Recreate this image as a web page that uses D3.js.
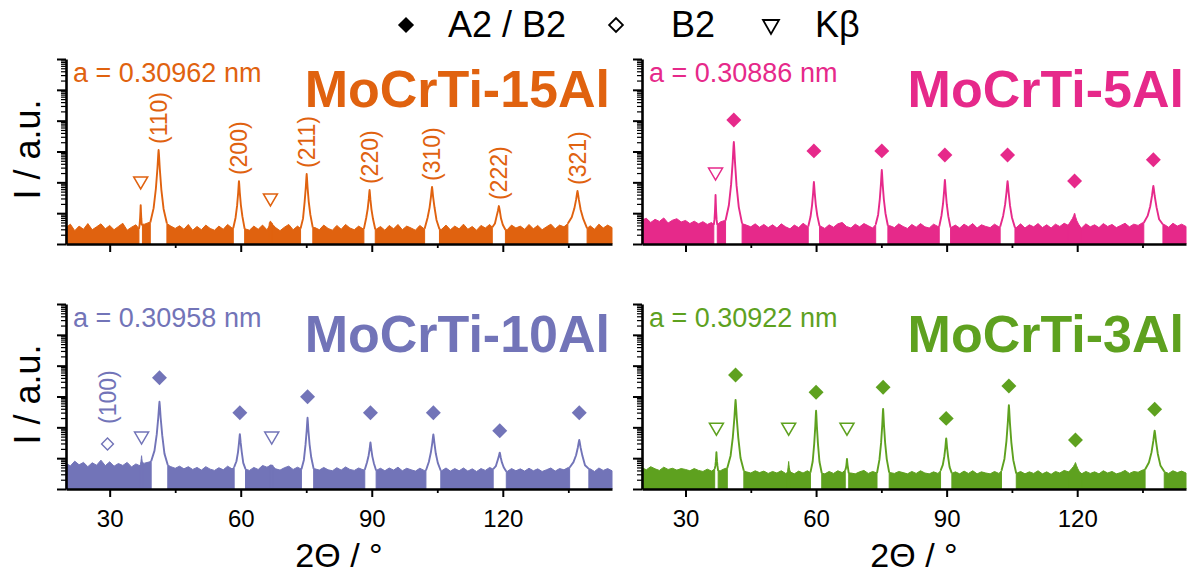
<!DOCTYPE html>
<html>
<head>
<meta charset="utf-8">
<script src="https://cdn.jsdelivr.net/npm/d3@7"></script>
<style>
body { margin: 0; background: #fff; }
svg text { font-family: "Liberation Sans", Arial, sans-serif; }
</style>
</head>
<body>
<div id="chart-area"></div>
<script>
// background counts, one value per degree from 20 to 145
var noise15 = [34,44,27,38,30,46,29,36,45,31, 40,29,37,47,28,35,42,31,44,50,
               56,58,52,46,38,32,39,30,43,28, 37,29,41,32,28,38,30,43,33,39,
               44,31,28,38,30,41,29,48,34,27, 35,43,29,38,32,44,46,34,29,41,
               32,28,40,30,43,33,29,38,31,44, 41,30,37,28,40,31,43,29,38,33,
               28,40,31,43,45,35,30,41,29,38, 31,44,30,37,28,40,33,43,35,45,
               31,29,41,33,38,30,43,31,40,29, 36,44,31,41,36,46,48,46,41,32,
               39,30,44,33,41,34];
var noise5 = [60,68,50,63,54,70,48,59,66,52, 58,46,55,45,53,43,50,42,52,58,
              64,62,54,46,41,36,45,35,43,34, 42,33,45,36,31,41,34,47,37,43,
              48,38,32,42,35,45,50,37,33,44, 36,46,39,33,43,47,49,39,34,45,
              37,32,43,35,46,36,33,44,37,47, 44,34,41,33,44,36,46,33,42,37,
              34,44,36,46,47,39,34,45,33,42, 36,46,34,42,33,44,37,47,40,48,
              37,33,45,36,42,34,46,37,43,34, 40,47,36,44,40,49,50,47,43,37,
              43,35,47,38,44,37];
var noise10 = [68,56,80,61,73,53,71,59,86,57, 76,55,67,58,73,52,65,56,69,75,
               79,80,72,60,53,47,55,45,53,43, 50,41,53,44,40,49,42,55,45,51,
               55,44,40,50,43,58,51,60,45,41, 49,55,43,51,44,53,56,45,41,50,
               42,39,49,41,52,43,40,48,42,53, 49,40,47,39,48,41,51,39,47,42,
               38,47,40,49,52,44,39,48,38,46, 39,48,38,45,37,46,40,50,44,52,
               40,37,46,39,45,38,47,39,45,37, 42,48,38,46,42,50,52,49,45,39,
               45,37,48,40,46,39];
var noise3 = [49,42,53,45,40,51,43,47,41,46, 43,39,46,40,37,44,38,45,39,46,
              48,50,45,39,36,33,39,34,38,32, 37,33,39,32,36,31,38,33,39,34,
              39,33,31,37,32,39,34,41,33,31, 36,40,32,37,33,39,41,34,32,37,
              34,31,37,32,39,33,31,36,32,39, 37,32,36,31,38,32,39,31,36,33,
              31,37,32,39,40,35,32,37,31,36, 32,39,31,36,30,37,33,40,36,41,
              33,31,37,32,36,31,39,33,37,31, 34,40,32,37,35,41,43,41,37,33,
              37,32,39,34,38,33];

// bcc reflections, their half width at the foot (degrees)
var reflections = ["(110)", "(200)", "(211)", "(220)", "(310)", "(222)", "(321)"];
var peakWidth = [1.9, 1.3, 1.4, 1.3, 1.7, 1.5, 2.2];
var kbWidth = 0.4;

// peak positions (2theta) and apex counts
var pos15 = [41.2, 59.6, 75.1, 89.5, 103.8, 119.1, 137.1];
var int15 = [11220, 1096, 1862, 562, 708, 170, 525];
var pos5 = [41.1, 59.5, 75.1, 89.6, 104.0, 119.4, 137.5];
var int5 = [20400, 1023, 2512, 1202, 1096, 100, 759];
var pos10 = [41.4, 59.8, 75.3, 89.7, 104.1, 119.3, 137.5];
var int10 = [6761, 603, 2042, 324, 589, 151, 389];
var pos3 = [41.5, 60.0, 75.4, 89.9, 104.3, 119.6, 137.8];
var int3 = [7762, 3467, 3981, 437, 5248, 72, 776];

// K-beta lines: position, apex, marker height
var kbPos15 = [37.1, 66.8], kbInt15 = [182, 56], kbMark15 = [955, 269];
var kbPos5 = [36.9], kbInt5 = [389], kbMark5 = [1862];
var kbPos10 = [37.3, 67.1], kbInt10 = [120, 56], kbMark10 = [447, 447];
var kbPos3 = [37.1, 53.7, 67.1], kbInt3 = [155, 78, 95], kbMark3 = [871, 871, 871];

// filled diamond marker heights (A2 / B2)
var dia5 = [104700, 10470, 10470, 7762, 7762, 1096, 5370];
var dia10 = [40740, 2951, 9772, 2951, 2951, 776, 2951];
var dia3 = [50120, 13800, 19950, 1950, 21880, 389, 3890];

// B2 superlattice (100) in the 10Al sample
var b2Pos10 = [29.5], b2Mark10 = [288];

var samples = ["MoCrTi-15Al", "MoCrTi-5Al", "MoCrTi-10Al", "MoCrTi-3Al"];
var lattice = ["a = 0.30962 nm", "a = 0.30886 nm", "a = 0.30958 nm", "a = 0.30922 nm"];
var colors = ["#e0620f", "#e6298a", "#7274b8", "#5ea11f"];
var xMajor = [30, 60, 90, 120];
var xMinor = [45, 75, 105, 135];

var svg = d3.select("#chart-area").append("svg")
    .attr("width", 1192)
    .attr("height", 576);

// Panel object
XrdPanel = function(_parent, _cfg) {
    this.parent = _parent;
    this.cfg = _cfg;
    this.initVis();
};

XrdPanel.prototype.initVis = function() {
    var vis = this, c = vis.cfg;

    vis.x = d3.scaleLinear().domain([20, 145]).range([c.left, c.right]);
    vis.y = d3.scaleLog().domain([10, 1e7]).range([c.bottom, c.top]);
    vis.g = vis.parent.append("g");

    vis.drawData();
    vis.drawAxes();
    vis.drawMarkers();
    vis.drawText();
};

XrdPanel.prototype.noiseAt = function(deg) {
    var n = this.cfg.noise;
    var i = Math.max(0, Math.min(n.length - 1, Math.round(deg) - 20));
    return n[i];
};

// apex outline of one reflection, from foot to foot
XrdPanel.prototype.peakPoints = function(p, h, hw) {
    var vis = this;
    var shape = [[-1, 0], [-0.6, 0.18], [-0.33, 0.45], [-0.14, 0.74], [-0.04, 0.94], [0, 1],
                 [0.04, 0.94], [0.14, 0.74], [0.33, 0.45], [0.6, 0.18], [1, 0]];
    return shape.map(function(s) {
        var foot = vis.noiseAt(p + s[0] * hw);
        var lf = Math.log10(foot), lh = Math.log10(h);
        return [p + s[0] * hw, Math.pow(10, lf + s[1] * (lh - lf))];
    });
};

XrdPanel.prototype.drawData = function() {
    var vis = this, c = vis.cfg;

    var peaks = c.pos.map(function(p, i) { return { pos: p, h: c.inten[i], hw: peakWidth[i] }; });
    c.kbPos.forEach(function(p, i) { peaks.push({ pos: p, h: c.kbInt[i], hw: kbWidth }); });

    // big peaks cut a white gap through the background band
    peaks.forEach(function(d) { d.cut = d.h > 2.2 * vis.noiseAt(d.pos); });
    var cuts = peaks.filter(function(d) { return d.cut; })
        .map(function(d) { return [d.pos - d.hw, d.pos + d.hw]; })
        .sort(function(a, b) { return a[0] - b[0]; });

    var segs = [], start = 20;
    cuts.forEach(function(k) { segs.push([start, k[0]]); start = k[1]; });
    segs.push([start, 145]);

    var area = d3.area()
        .x(function(d) { return vis.x(d[0]); })
        .y0(vis.y(10))
        .y1(function(d) { return vis.y(d[1]); });

    var line = d3.line()
        .x(function(d) { return vis.x(d[0]); })
        .y(function(d) { return vis.y(d[1]); });

    segs.forEach(function(s) {
        var pts = [[s[0], vis.noiseAt(s[0])]];
        for (var d = Math.floor(s[0]) + 1; d < s[1]; d++) pts.push([d, c.noise[d - 20]]);
        pts.push([s[1], vis.noiseAt(s[1])]);
        vis.g.append("path")
            .datum(pts)
            .attr("d", area)
            .attr("fill", c.color)
            .attr("stroke", c.color)
            .attr("stroke-width", 1)
            .attr("stroke-linejoin", "miter");
    });

    peaks.forEach(function(d) {
        var pts = vis.peakPoints(d.pos, d.h, d.hw);
        if (d.cut) {
            vis.g.append("path")
                .datum(pts)
                .attr("d", line)
                .attr("fill", "none")
                .attr("stroke", c.color)
                .attr("stroke-width", 1.9)
                .attr("stroke-linejoin", "round");
        } else {
            // small bumps just sit on top of the band
            vis.g.append("path")
                .datum(pts)
                .attr("d", area)
                .attr("fill", c.color)
                .attr("stroke", c.color)
                .attr("stroke-width", 1);
        }
    });
};

XrdPanel.prototype.drawAxes = function() {
    var vis = this, c = vis.cfg;

    var majors = vis.y.ticks().filter(function(t) { return Math.abs(Math.log10(t) % 1) < 1e-6; });
    var minors = vis.y.ticks().filter(function(t) { return Math.abs(Math.log10(t) % 1) > 1e-6; });

    var yMin = vis.g.append("g")
        .attr("transform", "translate(" + c.left + ",0)")
        .call(d3.axisLeft(vis.y).tickValues(minors).tickSize(5).tickSizeOuter(0).tickFormat(""));
    yMin.selectAll("line").attr("stroke-width", 1.2);

    var yMaj = vis.g.append("g")
        .attr("transform", "translate(" + c.left + ",0)")
        .call(d3.axisLeft(vis.y).tickValues(majors).tickSize(9).tickSizeOuter(0).tickFormat(""));
    yMaj.selectAll("line").attr("stroke-width", 2);
    yMaj.select(".domain").attr("stroke-width", 2.6);
    yMin.select(".domain").remove();

    var xMin = vis.g.append("g")
        .attr("transform", "translate(0," + c.bottom + ")")
        .call(d3.axisBottom(vis.x).tickValues(xMinor).tickSize(4).tickSizeOuter(0).tickFormat(""));
    xMin.selectAll("line").attr("stroke-width", 1.8);
    xMin.select(".domain").remove();

    var xMaj = vis.g.append("g")
        .attr("transform", "translate(0," + c.bottom + ")")
        .call(d3.axisBottom(vis.x).tickValues(xMajor).tickSize(8).tickSizeOuter(0)
            .tickPadding(13).tickFormat(c.xLabels ? d3.format("d") : ""));
    xMaj.selectAll("line").attr("stroke-width", 2);
    xMaj.select(".domain").attr("stroke-width", 2.6);
    xMaj.attr("font-size", 24).attr("font-family", null);
    xMaj.selectAll("text").attr("fill", "#000");

    if (c.xLabels) {
        vis.g.append("text")
            .attr("x", (c.left + c.right) / 2)
            .attr("y", 567)
            .attr("text-anchor", "middle")
            .attr("font-size", 34)
            .text("2\u0398 / \u00b0");
    }
    if (c.yTitle) {
        vis.g.append("text")
            .attr("transform", "translate(40," + ((c.top + c.bottom) / 2 - 2) + ") rotate(-90)")
            .attr("text-anchor", "middle")
            .attr("font-size", 36)
            .text("I / a.u.");
    }
};

XrdPanel.prototype.drawMarkers = function() {
    var vis = this, c = vis.cfg;

    var diamond = d3.symbol().type(d3.symbolSquare).size(112);
    var tri = "M-7,-6L7,-6L0,6Z";

    if (c.dia) {
        vis.g.selectAll(".dia")
            .data(c.dia)
            .enter().append("path")
            .attr("d", diamond)
            .attr("transform", function(d, i) {
                return "translate(" + vis.x(c.pos[i]) + "," + vis.y(d) + ") rotate(45)";
            })
            .attr("fill", c.color);
    }

    vis.g.selectAll(".kb")
        .data(c.kbMark)
        .enter().append("path")
        .attr("d", tri)
        .attr("transform", function(d, i) {
            return "translate(" + vis.x(c.kbPos[i]) + "," + vis.y(d) + ")";
        })
        .attr("fill", "#fff")
        .attr("stroke", c.color)
        .attr("stroke-width", 1.5);

    if (c.b2Pos) {
        c.b2Pos.forEach(function(p, i) {
            var px = vis.x(p), py = vis.y(c.b2Mark[i]);
            vis.g.append("path")
                .attr("d", d3.symbol().type(d3.symbolSquare).size(70))
                .attr("transform", "translate(" + px + "," + py + ") rotate(45)")
                .attr("fill", "#fff")
                .attr("stroke", c.color)
                .attr("stroke-width", 1.4);
            vis.g.append("text")
                .attr("transform", "translate(" + px + "," + (py - 20) + ") rotate(-90)")
                .attr("dy", "0.36em")
                .attr("font-size", 23)
                .attr("fill", c.color)
                .text("(100)");
        });
    }

    // Miller indices above the peaks
    if (c.hkl) {
        vis.g.selectAll(".hkl")
            .data(reflections)
            .enter().append("text")
            .attr("transform", function(d, i) {
                return "translate(" + vis.x(c.pos[i]) + "," + (vis.y(c.inten[i]) - 6) + ") rotate(-90)";
            })
            .attr("dy", "0.36em")
            .attr("font-size", 23)
            .attr("fill", c.color)
            .text(function(d) { return d; });
    }
};

XrdPanel.prototype.drawText = function() {
    var vis = this, c = vis.cfg;

    vis.g.append("text")
        .attr("x", c.left + 7)
        .attr("y", c.top + 23)
        .attr("font-size", 27)
        .attr("fill", c.color)
        .text(c.lattice);

    vis.g.append("text")
        .attr("x", c.right - 2)
        .attr("y", c.top + 48)
        .attr("text-anchor", "end")
        .attr("font-size", 52)
        .attr("font-weight", "bold")
        .attr("fill", c.color)
        .text(c.name);
};

// panel table
var frames = [
    { left: 66, right: 612, top: 59, bottom: 244, xLabels: false, yTitle: true },
    { left: 642, right: 1186, top: 59, bottom: 244, xLabels: false, yTitle: false },
    { left: 66, right: 612, top: 304, bottom: 489, xLabels: true, yTitle: true },
    { left: 642, right: 1186, top: 304, bottom: 489, xLabels: true, yTitle: false }
];
var noises = [noise15, noise5, noise10, noise3];
var poss = [pos15, pos5, pos10, pos3];
var ints = [int15, int5, int10, int3];
var kbP = [kbPos15, kbPos5, kbPos10, kbPos3];
var kbI = [kbInt15, kbInt5, kbInt10, kbInt3];
var kbM = [kbMark15, kbMark5, kbMark10, kbMark3];
var dias = [null, dia5, dia10, dia3];

frames.forEach(function(f, i) {
    new XrdPanel(svg, Object.assign({}, f, {
        name: samples[i], lattice: lattice[i], color: colors[i],
        noise: noises[i], pos: poss[i], inten: ints[i],
        kbPos: kbP[i], kbInt: kbI[i], kbMark: kbM[i], dia: dias[i],
        hkl: i === 0,
        b2Pos: i === 2 ? b2Pos10 : null, b2Mark: i === 2 ? b2Mark10 : null
    }));
});

// legend
var leg = svg.append("g").attr("font-size", 36);
leg.append("path")
    .attr("d", d3.symbol().type(d3.symbolSquare).size(130))
    .attr("transform", "translate(406,25) rotate(45)")
    .attr("fill", "#000");
leg.append("text").attr("x", 448).attr("y", 37).text("A2 / B2");
leg.append("path")
    .attr("d", d3.symbol().type(d3.symbolSquare).size(95))
    .attr("transform", "translate(616,25) rotate(45)")
    .attr("fill", "#fff").attr("stroke", "#000").attr("stroke-width", 1.8);
leg.append("text").attr("x", 671).attr("y", 37).text("B2");
leg.append("path")
    .attr("d", "M-8,-7L8,-7L0,7Z")
    .attr("transform", "translate(771,27)")
    .attr("fill", "#fff").attr("stroke", "#000").attr("stroke-width", 1.8);
leg.append("text").attr("x", 815).attr("y", 37).text("K\u03b2");
</script>
</body>
</html>
